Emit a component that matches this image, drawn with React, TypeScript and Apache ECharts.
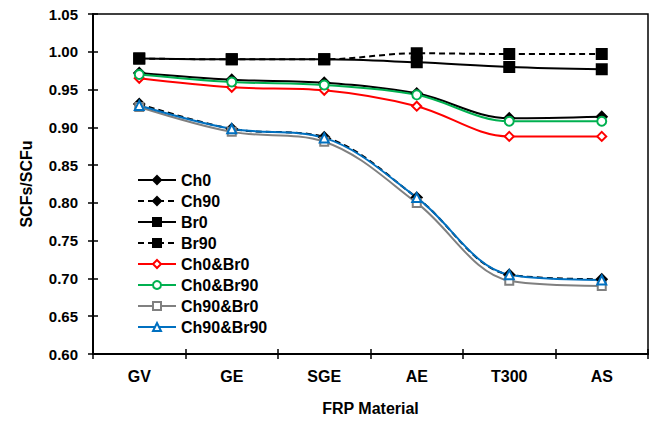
import React, { useEffect, useRef } from "react";
import * as echarts from "echarts";

const categories = ["GV", "GE", "SGE", "AE", "T300", "AS"];
const ch0 = [0.972, 0.963, 0.959, 0.945, 0.912, 0.914];
const ch90 = [0.931, 0.898, 0.887, 0.807, 0.705, 0.699];
const br0 = [0.991, 0.990, 0.990, 0.986, 0.980, 0.977];
const br90 = [0.991, 0.990, 0.990, 0.998, 0.997, 0.997];
const ch0br0 = [0.965, 0.953, 0.949, 0.928, 0.888, 0.888];
const ch0br90 = [0.970, 0.960, 0.956, 0.943, 0.908, 0.908];
const ch90br0 = [0.927, 0.894, 0.881, 0.800, 0.697, 0.690];
const ch90br90 = [0.929, 0.898, 0.886, 0.807, 0.705, 0.698];

const FONT = "Arial, 'Liberation Sans', sans-serif";

export default function App() {
  const ref = useRef<HTMLDivElement>(null);
  useEffect(() => {
    if (!ref.current) return;
    const chart = echarts.init(ref.current, null, { renderer: "svg" });
    const mk = (name: string, data: number[], color: string, symbol: string, size: number, filled: boolean, dashed: boolean) => ({
      name,
      type: "line",
      data,
      smooth: 0.35,
      symbol,
      symbolSize: size,
      showAllSymbol: true,
      lineStyle: { color, width: 2, type: dashed ? [6, 4] : "solid" },
      itemStyle: { color: filled ? color : "#fff", borderColor: color, borderWidth: 2 },
      emphasis: { disabled: true },
    });
    const boldText = { fontWeight: "bold", color: "#000", fontFamily: FONT };
    chart.setOption({
      animation: false,
      textStyle: { fontFamily: FONT },
      grid: { left: 93, right: 5, top: 14, bottom: 66, show: true, borderColor: "#000", borderWidth: 1.5, backgroundColor: "transparent" },
      legend: {
        orient: "vertical",
        left: 137,
        top: 172,
        padding: 0,
        itemWidth: 38,
        itemHeight: 10,
        itemGap: 5,
        textStyle: { fontSize: 16, ...boldText },
        data: ["Ch0", "Ch90", "Br0", "Br90", "Ch0&Br0", "Ch0&Br90", "Ch90&Br0", "Ch90&Br90"],
      },
      xAxis: [
        {
          type: "category",
          data: categories,
          position: "bottom",
          boundaryGap: true,
          axisLine: { lineStyle: { color: "#000", width: 2 } },
          axisTick: { show: true, length: 5, lineStyle: { color: "#000", width: 1.5 } },
          axisLabel: { fontSize: 16, margin: 14, ...boldText },
          name: "FRP Material",
          nameLocation: "middle",
          nameGap: 46,
          nameTextStyle: { fontSize: 16, ...boldText },
        },
        {
          type: "category",
          data: categories,
          position: "bottom",
          offset: 0,
          boundaryGap: true,
          axisLine: { show: false },
          axisTick: { show: true, inside: true, length: 5, lineStyle: { color: "#000", width: 1.5 } },
          axisLabel: { show: false },
        },
      ],
      yAxis: [
        {
          type: "value",
          min: 0.6,
          max: 1.05,
          interval: 0.05,
          position: "left",
          axisLine: { show: true, lineStyle: { color: "#000", width: 2 } },
          axisTick: { show: true, length: 5, lineStyle: { color: "#000", width: 1.5 } },
          splitLine: { show: false },
          axisLabel: { fontSize: 15, margin: 15, formatter: (v: number) => v.toFixed(2), ...boldText },
          name: "SCFs/SCFu",
          nameLocation: "middle",
          nameGap: 59,
          nameTextStyle: { fontSize: 16, ...boldText },
        },
        {
          type: "value",
          min: 0.6,
          max: 1.05,
          interval: 0.05,
          position: "left",
          offset: 0,
          axisLine: { show: false },
          axisTick: { show: true, inside: true, length: 5, lineStyle: { color: "#000", width: 1.5 } },
          splitLine: { show: false },
          axisLabel: { show: false },
        },
      ],
      series: [
        mk("Ch0", ch0, "#000000", "diamond", 10, true, false),
        mk("Ch90", ch90, "#000000", "diamond", 10, true, true),
        mk("Br0", br0, "#000000", "rect", 10, true, false),
        mk("Br90", br90, "#000000", "rect", 10, true, true),
        mk("Ch0&Br0", ch0br0, "#FF0000", "diamond", 9, false, false),
        mk("Ch0&Br90", ch0br90, "#00B050", "circle", 9, false, false),
        mk("Ch90&Br0", ch90br0, "#808080", "rect", 8, false, false),
        mk("Ch90&Br90", ch90br90, "#0070C0", "triangle", 9, false, false),
      ],
    });
    return () => chart.dispose();
  }, []);
  return <div ref={ref} style={{ width: 653, height: 421, position: "absolute", left: 0, top: 0 }} />;
}
